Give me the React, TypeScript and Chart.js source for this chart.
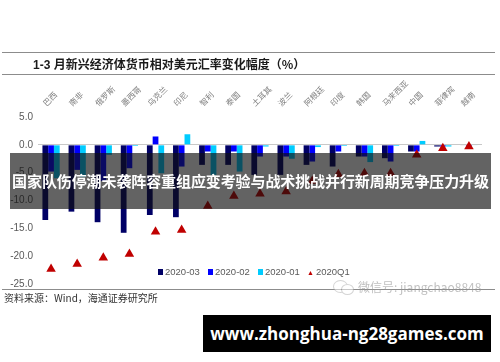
import React, { useEffect, useRef } from 'react';
import { Chart, registerables } from 'chart.js';

Chart.register(...registerables);

const categories = ['巴西', '南非', '俄罗斯', '墨西哥', '乌克兰', '印尼', '智利', '泰国', '土耳其', '波兰', '阿根廷', '印度', '韩国', '马来西亚', '中国', '菲律宾', '越南'];
const mar2020 = [-13.5, -12.0, -13.9, -15.8, -12.6, -13.0, -3.6, -3.6, -5.4, -5.4, -3.6, -3.9, -2.1, -2.4, -1.2, -0.3, -0.1];
const feb2020 = [-4.8, -4.5, -6.5, -4.2, 1.5, -3.9, -1.2, -1.2, -2.1, -2.1, -3.0, -1.2, -2.1, -3.0, -1.2, -0.3, -0.2];
const jan2020 = [-6.0, -5.8, -1.8, -0.2, -5.1, 1.9, -5.4, -4.8, -0.3, -2.5, -0.4, -0.2, -3.1, -0.2, 0.7, -0.3, -0.1];
const q1Total = [-22.3, -21.4, -20.3, -19.6, -15.6, -15.3, -11.0, -9.2, -8.8, -8.4, -6.5, -5.3, -5.1, -5.1, -1.8, -0.6, -0.3];
const seriesNames = ['2020-03', '2020-02', '2020-01', '2020Q1'];
const yMin = -25;
const yMax = 5;
const yStep = 5;

const colors = ['#000066', '#0000ff', '#00ccff', '#c00000'];

export default function App() {
  const ref = useRef<HTMLCanvasElement | null>(null);

  useEffect(() => {
    if (!ref.current) return;
    const chart = new Chart(ref.current, {
      type: 'bar',
      data: {
        labels: categories,
        datasets: [
          { type: 'line', label: seriesNames[3], data: q1Total, showLine: false, pointStyle: 'triangle', pointRadius: 5.5, pointBackgroundColor: colors[3], pointBorderColor: colors[3], pointBorderWidth: 0, borderColor: colors[3], backgroundColor: colors[3], order: 0 } as any,
          { label: seriesNames[0], data: mar2020, backgroundColor: colors[0], categoryPercentage: 0.66, barPercentage: 1, order: 1 },
          { label: seriesNames[1], data: feb2020, backgroundColor: colors[1], categoryPercentage: 0.66, barPercentage: 1, order: 1 },
          { label: seriesNames[2], data: jan2020, backgroundColor: colors[2], categoryPercentage: 0.66, barPercentage: 1, order: 1 },
        ],
      },
      options: {
        animation: false,
        responsive: false,
        devicePixelRatio: 1,
        layout: { padding: { top: 70, left: 0, right: 18, bottom: 78 } },
        plugins: { legend: { display: false }, tooltip: { enabled: false } },
        scales: {
          x: {
            position: 'top',
            grid: { display: false, drawTicks: false },
            border: { display: false },
            ticks: {
              autoSkip: false,
              minRotation: 45,
              maxRotation: 45,
              padding: 9,
              color: '#7f7f7f',
              font: { family: '"Noto Sans CJK SC"', size: 8 },
            },
            afterFit: (s: any) => { s.height = 47; s.paddingLeft = 0; s.paddingRight = 0; },
          },
          y: {
            min: yMin,
            max: yMax,
            border: { display: false },
            grid: {
              drawTicks: false,
              color: (ctx: any) => (ctx.tick && ctx.tick.value === 0 ? '#c8c8c8' : 'rgba(0,0,0,0)'),
            },
            ticks: {
              stepSize: yStep,
              padding: 5,
              color: '#595959',
              font: { family: '"Liberation Sans", Arial', size: 10 },
              callback: (v: any) => Number(v).toFixed(1),
            },
            afterFit: (s: any) => { s.width = 38; s.paddingTop = 0; s.paddingBottom = 0; },
          },
        },
      } as any,
    });
    return () => chart.destroy();
  }, []);

  const abs = (o: React.CSSProperties): React.CSSProperties => ({ position: 'absolute', ...o });
  const legendFont: React.CSSProperties = { fontFamily: '"Liberation Sans", Arial, sans-serif', fontSize: 9.5, color: '#595959', whiteSpace: 'nowrap' };

  return (
    <div style={{ position: 'absolute', left: 0, top: 0, width: 500, height: 362, background: '#fff', overflow: 'hidden' }}>
      <canvas ref={ref} width={500} height={362} style={abs({ left: 0, top: 0, width: 500, height: 362 })} />

      <div style={abs({ left: 2, top: 52, width: 493, borderTop: '1px solid #8c8c8c' })} />
      <div style={abs({ left: 2, top: 74, width: 493, borderTop: '1px solid #8c8c8c' })} />
      <div style={abs({ left: 33, top: 56, fontFamily: '"Noto Sans CJK SC", sans-serif', fontWeight: 700, fontSize: 12, color: '#1a1a1a', whiteSpace: 'nowrap', lineHeight: '16px' })}>
        <span style={{ fontFamily: '"Liberation Sans", Arial', fontWeight: 700 }}>1-3 </span>月新兴经济体货币相对美元汇率变化幅度（%）
      </div>

      {/* legend */}
      <div style={abs({ left: 158, top: 266, ...legendFont })}>
        <span style={{ display: 'inline-block', width: 5, height: 6, background: colors[0], marginRight: 2 }} />{seriesNames[0]}
      </div>
      <div style={abs({ left: 208, top: 266, ...legendFont })}>
        <span style={{ display: 'inline-block', width: 5, height: 6, background: colors[1], marginRight: 2 }} />{seriesNames[1]}
      </div>
      <div style={abs({ left: 258, top: 266, ...legendFont })}>
        <span style={{ display: 'inline-block', width: 5, height: 6, background: colors[2], marginRight: 2 }} />{seriesNames[2]}
      </div>
      <div style={abs({ left: 307, top: 266, ...legendFont })}>
        <span style={{ color: colors[3], fontSize: 7, marginRight: 2 }}>▲</span>{seriesNames[3]}
      </div>

      <div style={abs({ left: 2, top: 289, width: 493, borderTop: '1px solid #8c8c8c' })} />
      <div style={abs({ left: 333, top: 280, width: 22, height: 15, opacity: 0.5 })}>
        <div style={abs({ left: 0, top: 0, width: 13, height: 11, borderRadius: '50%', border: '1px solid #aaa', background: '#fff' })} />
        <div style={abs({ left: 8, top: 4, width: 11, height: 9, borderRadius: '50%', border: '1px solid #aaa', background: '#fff' })} />
      </div>
      <div style={abs({ left: 358, top: 279, fontFamily: '"Noto Sans CJK SC", sans-serif', fontSize: 12, color: 'rgba(150,150,150,0.6)', whiteSpace: 'nowrap', lineHeight: '16px' })}>
        微信号: jiangchao8848
      </div>
      <div style={abs({ left: 4, top: 291, fontFamily: '"Noto Sans CJK SC", sans-serif', fontSize: 10, color: '#333', whiteSpace: 'nowrap', lineHeight: '14px' })}>
        资料来源：Wind，海通证券研究所
      </div>

      {/* gray banner */}
      <div style={abs({ left: 10, top: 153, width: 481, height: 56, background: 'rgba(15,15,15,0.65)', color: '#fff', fontFamily: '"Noto Sans CJK SC", sans-serif', fontWeight: 700, fontSize: 15, lineHeight: '56px', textAlign: 'center', whiteSpace: 'nowrap', letterSpacing: -0.1 })}>
        国家队伤停潮未袭阵容重组应变考验与战术挑战并行新周期竞争压力升级
      </div>

      {/* black banner */}
      <div style={abs({ left: 203, top: 315, width: 288, height: 37, background: '#000', color: '#fff', fontFamily: '"Open Sans", "DejaVu Sans", sans-serif', fontWeight: 700, fontSize: 17, lineHeight: '37px', textAlign: 'center', whiteSpace: 'nowrap' })}>
        www.zhonghua-ng28games.com
      </div>
    </div>
  );
}
